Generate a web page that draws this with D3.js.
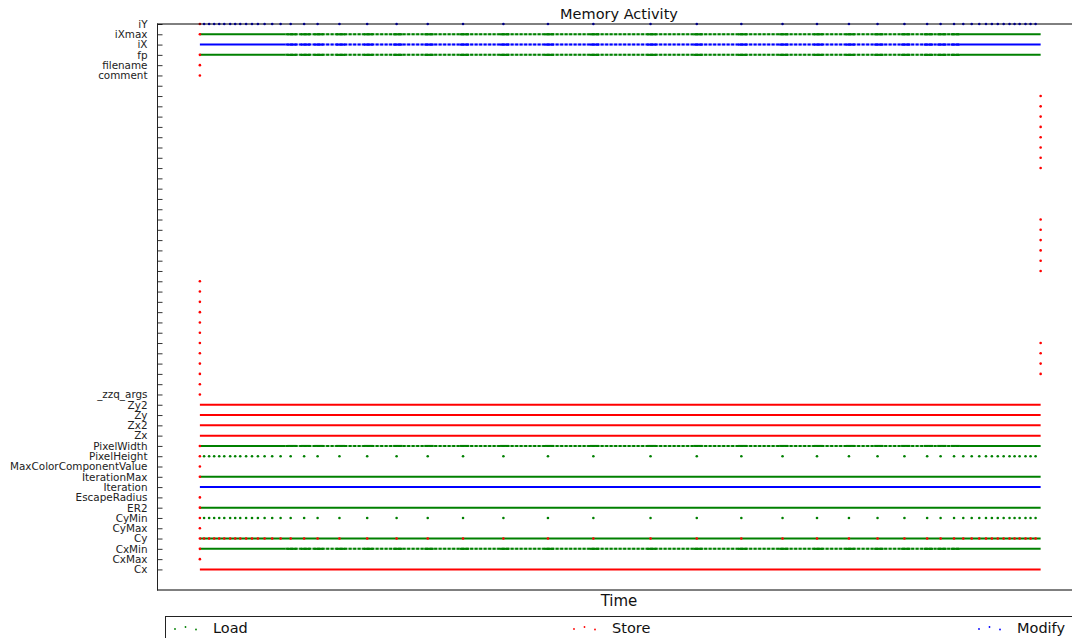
<!DOCTYPE html>
<html><head><meta charset="utf-8">
<script src="https://cdn.jsdelivr.net/npm/d3@7"></script>
<style>body{margin:0;background:#fff} svg{display:block} text{font-family:"DejaVu Sans",sans-serif}</style>
</head><body><svg id="c" width="1072" height="638"></svg>
<script>
// ---- data ----
const rowLabels = ["Cx","CxMax","CxMin","Cy","CyMax","CyMin","ER2","EscapeRadius","Iteration","IterationMax",
  "MaxColorComponentValue","PixelHeight","PixelWidth","Zx","Zx2","Zy","Zy2","_zzq_args",
  "","","","","","","","","","",
  "","","","","","","","","","",
  "","","","","","","","","","",
  "comment","filename","fp","iX","iXmax","iY"];
const kinds = ["Load","Store","Modify"];
const kindColors = ["#008000","#ff0000","#0000ff"];

const timeStart = 0, timeEnd = 1000;
// rows with continuous activity during the whole run
const runRows  = ["iXmax","iX","fp","PixelWidth","IterationMax","Iteration","ER2","Cy","CxMin","Zy2","Zy","Zx2","Zx","Cx"];
const runKinds = ["Load","Modify","Load","Load","Load","Modify","Load","Load","Load","Store","Store","Store","Store","Store"];
// per-pixel rows: sparse (gappy) in the middle of the run
const perPixelRows = ["iXmax","iX","fp","PixelWidth","CxMin"];
const sparseSpan = [102, 904];
// outer-loop (per image row) events
const outerTimes = [5,11,17,23,29,36,42,48,55,62,69,77,86,96,108,124,140,166,199,234,271,313,361,414,468,
  536,591,644,693,734,772,806,838,865,881,897,908,918,927,935,942,949,956,963,969,975,982,988,994];
const outerRows  = ["PixelHeight","CyMin","Cy","iY"];
const outerKinds = ["Load","Load","Store","Modify"];
// single stores at the beginning
const initStoreRows = ["iY","iXmax","fp","filename","comment","PixelWidth","PixelHeight","MaxColorComponentValue",
  "IterationMax","EscapeRadius","ER2","CyMin","CyMax","Cy","CxMin","CxMax"];
const startStoreRows = [17,18,19,20,21,22,23,24,25,26,27,28];
const endStoreRows   = [19,20,21,22,29,30,31,32,33,34,39,40,41,42,43,44,45,46];

// ---- chart ----
const svg = d3.select("#c");
const x = d3.scaleLinear().domain([-51, 1048]).range([157, 1081]);
const y = d3.scaleLinear().domain([-2, 53]).range([590, 24]);
const rowIdx = name => rowLabels.indexOf(name);
const col = k => kindColors[kinds.indexOf(k)];

// axis
const ax = svg.append("g").attr("transform","translate(157.5,0)")
  .call(d3.axisLeft(y).tickValues(d3.range(0, rowLabels.length)).tickFormat(i => rowLabels[i])
    .tickSizeInner(-5).tickSizeOuter(0).tickPadding(10));
ax.select(".domain").remove();
ax.selectAll(".tick line").attr("stroke","#333");
ax.selectAll(".tick text").attr("font-size",10.4).attr("fill","#222").attr("font-family","DejaVu Sans");

const plot = svg.append("g");

function dot(t, r, k) {
  plot.append("circle").attr("cx", x(t)).attr("cy", y(r)).attr("r", 1.3).attr("fill", col(k));
}
function seg(t0, t1, r, k, extra) {
  const l = plot.append("line").attr("x1", x(t0)).attr("x2", x(t1)).attr("y1", y(r)).attr("y2", y(r))
    .attr("stroke", col(k)).attr("stroke-width", 2);
  if (extra) extra(l);
  return l;
}

function drawKind(k) {
  runRows.forEach((name, i) => {
    if (runKinds[i] !== k) return;
    const r = rowIdx(name);
    if (perPixelRows.includes(name)) {
      seg(timeStart, sparseSpan[0], r, k);
      seg(sparseSpan[1], timeEnd, r, k);
      seg(sparseSpan[0], sparseSpan[1], r, k, l => l.attr("stroke-opacity", 0.35));
      seg(sparseSpan[0], sparseSpan[1], r, k, l => l.attr("stroke-dasharray", "3,1.5"));
      outerTimes.filter(t => t > sparseSpan[0] && t < sparseSpan[1])
        .forEach(t => seg(t - 4, t + 7, r, k));
    } else {
      seg(timeStart, timeEnd, r, k);
    }
  });
  outerRows.forEach((name, i) => {
    if (outerKinds[i] !== k) return;
    outerTimes.forEach(t => dot(t, rowIdx(name), k));
  });
  if (k === "Store") {
    initStoreRows.forEach(name => dot(timeStart, rowIdx(name), k));
    startStoreRows.forEach(r => dot(timeStart, r, k));
    endStoreRows.forEach(r => dot(timeEnd, r, k));
  }
}
kinds.forEach(drawKind);

// spines
svg.append("line").attr("x1",157).attr("x2",1081).attr("y1",24).attr("y2",24).attr("stroke","#000").attr("stroke-width",1);
svg.append("line").attr("x1",157).attr("x2",1081).attr("y1",590).attr("y2",590).attr("stroke","#000").attr("stroke-width",1);
svg.append("line").attr("x1",157.5).attr("x2",157.5).attr("y1",23.5).attr("y2",590.5).attr("stroke","#222").attr("stroke-width",1);

// title & x label
svg.append("text").attr("x",619).attr("y",19).attr("text-anchor","middle").attr("font-size",14.5).attr("fill","#111").text("Memory Activity");
svg.append("text").attr("x",619).attr("y",606).attr("text-anchor","middle").attr("font-size",15).attr("fill","#111").text("Time");

// legend
const lg = svg.append("g");
lg.append("rect").attr("x",165.5).attr("y",616.5).attr("width",1000).attr("height",40)
  .attr("fill","#fff").attr("stroke","#222").attr("stroke-width",1);
const legX = [175, 574, 979];
const legOff = [1, -1, 1.5];
kinds.forEach((k, i) => {
  [0, 10.5, 21].forEach((dx, j) => {
    lg.append("circle").attr("cx", legX[i] + dx).attr("cy", 628 + legOff[j]).attr("r", 0.9).attr("fill", kindColors[i]);
  });
  lg.append("text").attr("x", legX[i] + 38).attr("y", 633).attr("font-size", 14.5).attr("fill","#111").text(k);
});
</script></body></html>
